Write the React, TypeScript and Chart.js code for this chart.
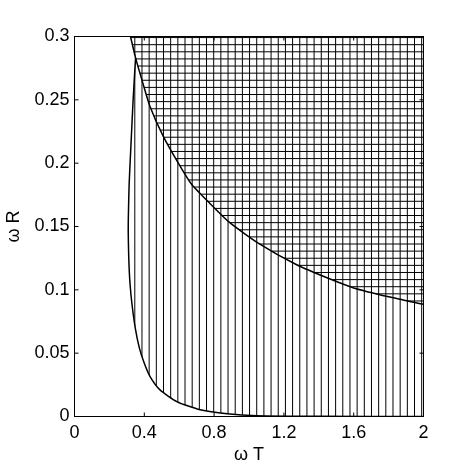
import React, { useEffect, useRef } from 'react';
import { Chart, registerables } from 'chart.js';

Chart.register(...registerables);

// ---- data ----
const xTicks = [0, 0.4, 0.8, 1.2, 1.6, 2];
const xTickLabels = ['0', '0.4', '0.8', '1.2', '1.6', '2'];
const yTicks = [0, 0.05, 0.1, 0.15, 0.2, 0.25, 0.3];
const yTickLabels = ['0', '0.05', '0.1', '0.15', '0.2', '0.25', '0.3'];

// upper boundary (horizontally hatched region lies above it)
const upperX = [0.321, 0.35, 0.39, 0.432, 0.508, 0.594, 0.671, 0.738, 0.883, 1.055, 1.276, 1.465, 1.6, 1.8, 2.0];
const upperY = [0.3, 0.2831, 0.264, 0.245, 0.2214, 0.2003, 0.1833, 0.1735, 0.1538, 0.1367, 0.1196, 0.1085, 0.1015, 0.0945, 0.0885];

// left / lower boundary (vertically hatched region lies right of / above it)
const lowerX = [0.35, 0.336, 0.322, 0.313, 0.309, 0.308, 0.311, 0.318, 0.33, 0.348, 0.372, 0.4, 0.433, 0.49, 0.586, 0.72, 0.874, 1.046, 1.4, 2.0];
const lowerY = [0.2831, 0.25, 0.21, 0.183, 0.16, 0.145, 0.125, 0.105, 0.088, 0.07, 0.054, 0.042, 0.0315, 0.021, 0.0118, 0.0053, 0.0021, 0.0006, 0.0001, 0.0];

// hatch spacing in data units
const xHatchStart = 0.0168;
const xHatchStep = 0.0411;
const yHatchStart = 0.0013;
const yHatchStep = 0.00562;

const FONT = "'Liberation Sans', Arial, Helvetica, sans-serif";

const hatchPlugin = {
  id: 'hatchFrame',
  beforeDatasetsDraw(chart: any) {
    const { ctx, chartArea: a, scales } = chart;
    const xs = scales.x;
    const ys = scales.y;
    const up = chart.getDatasetMeta(0).dataset;
    const lo = chart.getDatasetMeta(1).dataset;
    up.updateControlPoints(a, 'x');
    lo.updateControlPoints(a, 'x');

    ctx.save();
    ctx.strokeStyle = '#000';
    ctx.lineWidth = 1;

    // vertical hatch
    ctx.save();
    ctx.beginPath();
    lo.path(ctx);
    ctx.lineTo(a.right, a.top);
    ctx.lineTo(xs.getPixelForValue(upperX[0]), ys.getPixelForValue(upperY[0]));
    ctx.closePath();
    ctx.clip();
    ctx.beginPath();
    for (let v = xHatchStart; v <= xs.max; v += xHatchStep) {
      const px = xs.getPixelForValue(v);
      ctx.moveTo(px, a.top);
      ctx.lineTo(px, a.bottom);
    }
    ctx.stroke();
    ctx.restore();

    // horizontal hatch
    ctx.save();
    ctx.beginPath();
    up.path(ctx);
    ctx.lineTo(a.right, a.top);
    ctx.closePath();
    ctx.clip();
    ctx.beginPath();
    for (let v = yHatchStart; v <= ys.max; v += yHatchStep) {
      const py = ys.getPixelForValue(v);
      ctx.moveTo(a.left, py);
      ctx.lineTo(a.right, py);
    }
    ctx.stroke();
    ctx.restore();

    ctx.restore();
  },
  afterDatasetsDraw(chart: any) {
    const { ctx, chartArea: a, scales } = chart;
    const xs = scales.x;
    const ys = scales.y;
    const tl = 4;
    ctx.save();
    ctx.strokeStyle = '#000';
    ctx.lineWidth = 1;
    ctx.strokeRect(a.left, a.top, a.right - a.left, a.bottom - a.top);
    ctx.beginPath();
    xTicks.forEach((v) => {
      const px = xs.getPixelForValue(v);
      ctx.moveTo(px, a.bottom);
      ctx.lineTo(px, a.bottom - tl);
      ctx.moveTo(px, a.top);
      ctx.lineTo(px, a.top + tl);
    });
    yTicks.forEach((v) => {
      const py = ys.getPixelForValue(v);
      ctx.moveTo(a.left, py);
      ctx.lineTo(a.left + tl, py);
      ctx.moveTo(a.right, py);
      ctx.lineTo(a.right - tl, py);
    });
    ctx.stroke();
    ctx.restore();
  },
};

export default function App() {
  const ref = useRef<HTMLCanvasElement | null>(null);

  useEffect(() => {
    if (!ref.current) return;
    const upperData = upperX.map((x, i) => ({ x, y: upperY[i] }));
    const lowerData = lowerX.map((x, i) => ({ x, y: lowerY[i] }));
    const tickFont = { family: FONT, size: 18 };
    const chart = new Chart(ref.current, {
      type: 'line',
      data: {
        datasets: [
          {
            data: upperData,
            borderColor: '#000',
            borderWidth: 1.5,
            pointRadius: 0,
            tension: 0.2,
            fill: false,
          },
          {
            data: lowerData,
            borderColor: '#000',
            borderWidth: 1.5,
            pointRadius: 0,
            tension: 0.2,
            fill: false,
          },
        ],
      },
      options: {
        responsive: false,
        animation: false,
        devicePixelRatio: 1,
        layout: { padding: { left: 0, top: 36.5, right: 45.5, bottom: 0 } },
        plugins: { legend: { display: false }, tooltip: { enabled: false } },
        events: [],
        scales: {
          x: {
            type: 'linear',
            min: 0,
            max: 2,
            afterBuildTicks: (s: any) => {
              s.ticks = xTicks.map((v) => ({ value: v }));
            },
            afterFit: (s: any) => {
              s.height = 52.5;
            },
            grid: { display: false, drawTicks: false },
            border: { display: false },
            ticks: {
              callback: (_v: any, i: number) => xTickLabels[i],
              padding: 6,
              color: '#000',
              font: tickFont,
              maxRotation: 0,
              autoSkip: false,
            },
            title: {
              display: true,
              text: 'ω T',
              color: '#000',
              font: tickFont,
              padding: { top: 0, bottom: 3 },
            },
          },
          y: {
            type: 'linear',
            min: 0,
            max: 0.3,
            afterBuildTicks: (s: any) => {
              s.ticks = yTicks.map((v) => ({ value: v }));
            },
            afterFit: (s: any) => {
              s.width = 74.5;
            },
            grid: { display: false, drawTicks: false },
            border: { display: false },
            ticks: {
              callback: (_v: any, i: number) => yTickLabels[i],
              padding: 5,
              color: '#000',
              font: tickFont,
              autoSkip: false,
            },
            title: {
              display: true,
              text: 'ω R',
              color: '#000',
              font: tickFont,
              padding: { top: 3, bottom: 0 },
            },
          },
        },
      },
      plugins: [hatchPlugin],
    } as any);
    return () => chart.destroy();
  }, []);

  return (
    <div style={{ position: 'absolute', left: 0, top: 0, width: 469, height: 469, background: '#fff' }}>
      <canvas ref={ref} width={469} height={469} style={{ display: 'block' }} />
    </div>
  );
}
